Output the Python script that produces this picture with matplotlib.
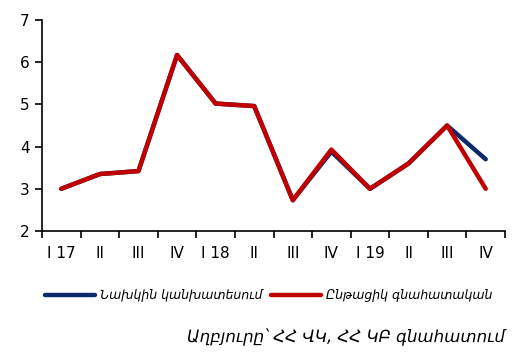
import matplotlib
matplotlib.use("Agg")
import matplotlib.pyplot as plt

quarters = ["I 17", "II", "III", "IV", "I 18", "II", "III", "IV", "I 19", "II", "III", "IV"]
previous_forecast = [3.0, 3.35, 3.42, 6.17, 5.02, 4.96, 2.73, 3.88, 3.0, 3.6, 4.5, 3.7]
current_estimate = [3.0, 3.35, 3.42, 6.17, 5.02, 4.96, 2.73, 3.93, 3.0, 3.6, 4.5, 3.0]
labels = ["Նախկին կանխատեսում", "Ընթացիկ գնահատական"]
source = "Աղբյուրը՝ ՀՀ ՎԿ, ՀՀ ԿԲ գնահատում"

plt.rcParams["font.family"] = ["DejaVu Sans"]

fig = plt.figure(figsize=(5.16, 3.53), dpi=100)
ax = fig.add_axes([42 / 516, 1 - 231 / 353, 463 / 516, 211 / 353])

x = list(range(len(quarters)))
ax.plot(x, previous_forecast, color="#0b2a6b", lw=3.2, solid_capstyle="round",
        label=labels[0])
ax.plot(x, current_estimate, color="#c00000", lw=3.2, solid_capstyle="round",
        label=labels[1])

ax.set_xlim(-0.5, len(quarters) - 0.5)
ax.set_ylim(2, 7)
ax.set_yticks(range(2, 8))
ax.set_xticks([i - 0.5 for i in range(len(quarters) + 1)])
ax.set_xticklabels([])
ax.set_xticks(x, minor=True)
ax.set_xticklabels(quarters, minor=True)
ax.tick_params(axis="x", which="major", direction="out", length=5, width=1.2)
ax.tick_params(axis="x", which="minor", length=0, pad=11, labelsize=11)
ax.tick_params(axis="y", direction="out", length=5, width=1.2, labelsize=11, pad=4)
for side in ("top", "right"):
    ax.spines[side].set_visible(False)
for side in ("left", "bottom"):
    ax.spines[side].set_linewidth(1.2)

fig.legend(loc="center", bbox_to_anchor=(0.52, 1 - 296 / 353), ncol=2, frameon=False,
           prop={"style": "italic", "size": 9}, handlelength=4.0, handletextpad=0.4,
           columnspacing=0.7)
fig.text(505 / 516, 1 - 337 / 353, source, ha="right", va="center",
         style="italic", fontsize=12)

fig.savefig("out.png", dpi=100)
